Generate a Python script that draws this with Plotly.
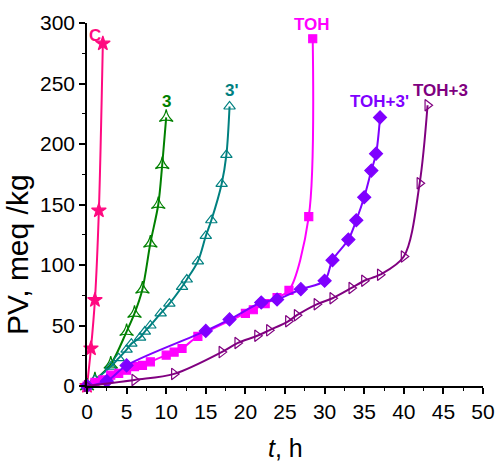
import plotly.graph_objects as go

# Peroxide value (PV) versus storage time for each sample
c_t = [0, 0.5, 1.0, 1.5, 2.0]
c_pv = [0, 31, 71, 145, 283]

s3_t = [0, 1, 3, 5, 6, 7, 8, 9, 9.5, 10]
s3_pv = [0, 5, 18, 45, 60, 80, 118, 150, 183, 222]

s3p_t = [0, 1, 3, 4, 5, 5.6, 6.7, 7.3, 8, 9.3, 10.4, 12, 12.6, 14, 15, 15.7, 17, 17.6, 18]
s3p_pv = [0, 5, 16, 23, 30, 35, 40, 45, 50, 60, 68, 82, 88, 103, 124, 137, 167, 191, 231]

toh_t = [0, 1, 2, 3, 4, 5, 6, 7, 8, 10, 11, 12, 14, 20, 21, 22.5, 24, 25.5, 28, 28.5]
toh_pv = [0, 3, 5, 9, 10.5, 13, 16, 17, 20, 25.5, 28, 31, 41, 60, 63, 68, 73, 79, 140, 287]

toh3p_t = [0, 2.5, 5, 15, 18, 22, 24, 27, 30, 31, 33, 34, 35, 35.9, 36.5, 37]
toh3p_pv = [0, 4, 17, 45.5, 55, 69, 71.5, 80, 87, 104, 121, 137, 156, 178, 192, 222]

toh3_t = [0, 6, 11, 17, 19, 21.5, 23, 25.4, 26.5, 29, 31, 33.4, 35, 37, 40, 42, 43]
toh3_pv = [0, 5, 10, 28, 35.5, 41.5, 46, 53.5, 58.5, 67.5, 72.5, 81, 87, 92, 107, 167.5, 232]

series = [
    ("C", c_t, c_pv, "#ff0a80", "star", 11),
    ("3", s3_t, s3_pv, "#008000", "star-triangle-up-open", 10),
    ("3'", s3p_t, s3p_pv, "#008080", "triangle-up-open", 10),
    ("TOH", toh_t, toh_pv, "#ff00ff", "square", 8),
    ("TOH+3'", toh3p_t, toh3p_pv, "#7f00ff", "diamond", 10),
    ("TOH+3", toh3_t, toh3_pv, "#800080", "triangle-right-open", 10),
]

# Curve label positions (t, PV)
label_pos = {
    "C": (1.0, 290),
    "3": (10.1, 235),
    "3'": (18.3, 244),
    "TOH": (28.45, 299),
    "TOH+3'": (36.9, 235),
    "TOH+3": (44.6, 244),
}

FONT = "Liberation Sans, Arial"

fig = go.Figure()
for name, t, pv, color, sym, msize in series:
    fig.add_trace(go.Scatter(
        x=t, y=pv, mode="lines+markers", name=name,
        line=dict(color=color, width=2, shape="spline", smoothing=0.9),
        marker=dict(symbol=sym, size=msize, color=color,
                    line=dict(color=color, width=1.2)),
        cliponaxis=False,
    ))
    lx, ly = label_pos[name]
    fig.add_annotation(x=lx, y=ly, text=f"<b>{name}</b>", showarrow=False,
                       font=dict(family=FONT, size=17, color=color))

axis_common = dict(
    showgrid=False, zeroline=False, showline=True, linecolor="black", linewidth=1.5,
    ticks="outside", ticklen=6, tickwidth=1.5, tickcolor="black",
    tickfont=dict(family=FONT, size=21, color="black"),
    mirror=False, automargin=False,
)

fig.update_xaxes(range=[0, 50], dtick=5, **axis_common,
                 minor=dict(ticks="outside", ticklen=3, tickwidth=1.2,
                            tickcolor="black", dtick=2.5))
fig.update_yaxes(range=[0, 300], dtick=50, **axis_common,
                 minor=dict(ticks="outside", ticklen=3, tickwidth=1.2,
                            tickcolor="black", dtick=25))

# Axis titles
fig.add_annotation(xref="paper", yref="paper", x=0.5, y=-0.171,
                   xanchor="center", yanchor="middle", showarrow=False,
                   text="<i>t</i>, h", font=dict(family=FONT, size=25, color="black"))
fig.add_annotation(xref="paper", yref="paper", x=-0.174, y=0.361,
                   xanchor="center", yanchor="middle", showarrow=False, textangle=-90,
                   text="PV, meq /kg", font=dict(family=FONT, size=30, color="black"))

fig.update_layout(
    width=497, height=462,
    margin=dict(l=87, r=14, t=23, b=76),
    plot_bgcolor="white", paper_bgcolor="white",
    showlegend=False,
)

fig.write_html("out.html")
